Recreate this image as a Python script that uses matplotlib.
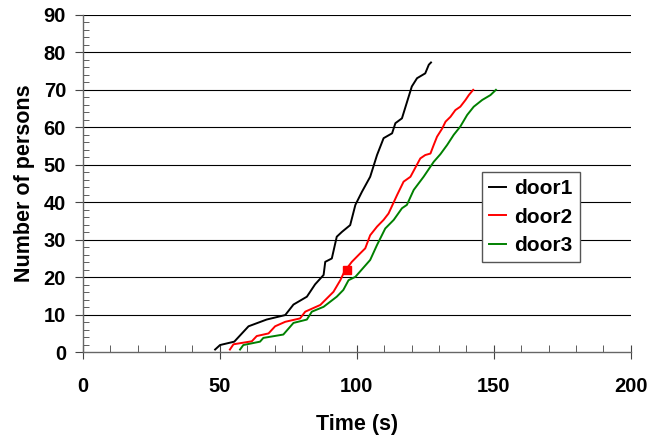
import matplotlib.pyplot as plt
from matplotlib.ticker import MultipleLocator

# door1 (black)
t1 = [48.3, 50.1, 55.3, 60.5, 67.1, 73.9, 76.9, 81.8, 84.8, 87.9, 88.5, 90.9, 92.7, 94.6,
      97.6, 99.5, 101.9, 104.9, 107.4, 109.8, 112.9, 114.1, 116.5, 120.1, 122.0, 125.0, 126.3, 127.1]
n1 = [0.7, 1.9, 2.8, 6.9, 8.7, 9.9, 12.7, 14.8, 18.1, 20.6, 24.1, 25.0, 30.8, 32.1,
      33.9, 39.3, 42.8, 46.8, 52.6, 57.1, 58.4, 61.1, 62.4, 70.9, 73.1, 74.4, 76.7, 77.3]

# door2 (red)
t2 = [53.7, 55.0, 61.7, 63.5, 67.8, 70.2, 73.9, 79.3, 81.2, 86.7, 91.5, 94.0, 95.5, 98.2,
      101.3, 103.1, 104.9, 107.4, 109.8, 111.6, 114.7, 117.1, 119.6, 123.2, 125.0, 126.9,
      128.1, 129.3, 131.2, 132.4, 134.2, 136.0, 137.8, 139.7, 140.9, 142.5]
n2 = [0.7, 2.1, 2.9, 4.3, 5.0, 6.9, 8.1, 9.0, 10.8, 12.6, 16.1, 19.2, 21.5, 24.1,
      26.4, 27.7, 31.2, 33.5, 35.3, 37.0, 41.9, 45.5, 46.8, 51.7, 52.6, 53.0,
      55.3, 57.5, 59.7, 61.5, 62.8, 64.6, 65.5, 67.3, 68.6, 70.0]

# door3 (green)
t3 = [57.4, 58.6, 64.7, 65.9, 73.2, 76.9, 81.8, 83.6, 87.9, 92.7, 95.1, 97.0, 99.5, 104.9,
      107.4, 110.4, 113.5, 116.5, 118.3, 120.8, 124.4, 128.1, 130.5, 133.0, 135.4, 137.8,
      140.3, 142.7, 145.8, 148.8, 150.8]
n3 = [0.7, 1.9, 2.8, 3.8, 4.7, 7.8, 8.7, 10.8, 12.1, 14.8, 16.6, 19.2, 20.1, 24.6,
      28.6, 33.0, 35.3, 38.4, 39.3, 43.3, 46.8, 50.8, 52.8, 55.3, 58.0, 60.2,
      63.3, 65.5, 67.3, 68.6, 70.0]

# highlighted point on door2
mark_t, mark_n = [96.6], [22.0]

plt.rcParams['font.family'] = ['Liberation Sans', 'DejaVu Sans']
plt.rcParams['font.weight'] = 'bold'

fig = plt.figure(figsize=(6.57, 4.38), dpi=100)
ax = fig.add_axes([0.126, 0.196, 0.834, 0.770])

for y in range(10, 91, 10):
    ax.axhline(y, color='black', lw=0.8, zorder=0)

ax.plot(t1, n1, color='black', lw=1.4, label='door1')
ax.plot(t2, n2, color='red', lw=1.4, label='door2')
ax.plot(t3, n3, color='green', lw=1.4, label='door3')
ax.plot(mark_t, mark_n, 's', color='red', ms=6)

ax.set_xlim(0, 200)
ax.set_ylim(0, 90)
ax.xaxis.set_major_locator(MultipleLocator(50))
ax.xaxis.set_minor_locator(MultipleLocator(10))
ax.yaxis.set_major_locator(MultipleLocator(10))
ax.yaxis.set_minor_locator(MultipleLocator(2))

ax.spines['top'].set_visible(False)
ax.spines['right'].set_visible(False)
for s in ['left', 'bottom']:
    ax.spines[s].set_color('#666666')
    ax.spines[s].set_linewidth(1.0)

ax.tick_params(axis='x', which='major', direction='inout', length=10, color='#444444',
               labelsize=14.5, pad=13)
ax.tick_params(axis='x', which='minor', direction='in', length=5, color='#444444')
ax.tick_params(axis='y', which='major', direction='out', length=6, color='#444444',
               labelsize=14.5, pad=6)
ax.tick_params(axis='y', which='minor', direction='in', length=4, color='#444444')
for lab in ax.get_xticklabels() + ax.get_yticklabels():
    lab.set_fontweight('bold')

ax.set_xlabel('Time (s)', fontsize=15.5, fontweight='bold', labelpad=13)
ax.set_ylabel('Number of persons', fontsize=15.5, fontweight='bold', labelpad=6)

leg = ax.legend(loc='upper left', bbox_to_anchor=(0.728, 0.534), fontsize=15,
                handlelength=0.8, handletextpad=0.4, borderpad=0.35, labelspacing=0.45,
                borderaxespad=0, fancybox=False, framealpha=1, edgecolor='#555555')
leg.get_frame().set_linewidth(1.0)
for txt in leg.get_texts():
    txt.set_fontweight('bold')

fig.savefig('out.png', dpi=100)
